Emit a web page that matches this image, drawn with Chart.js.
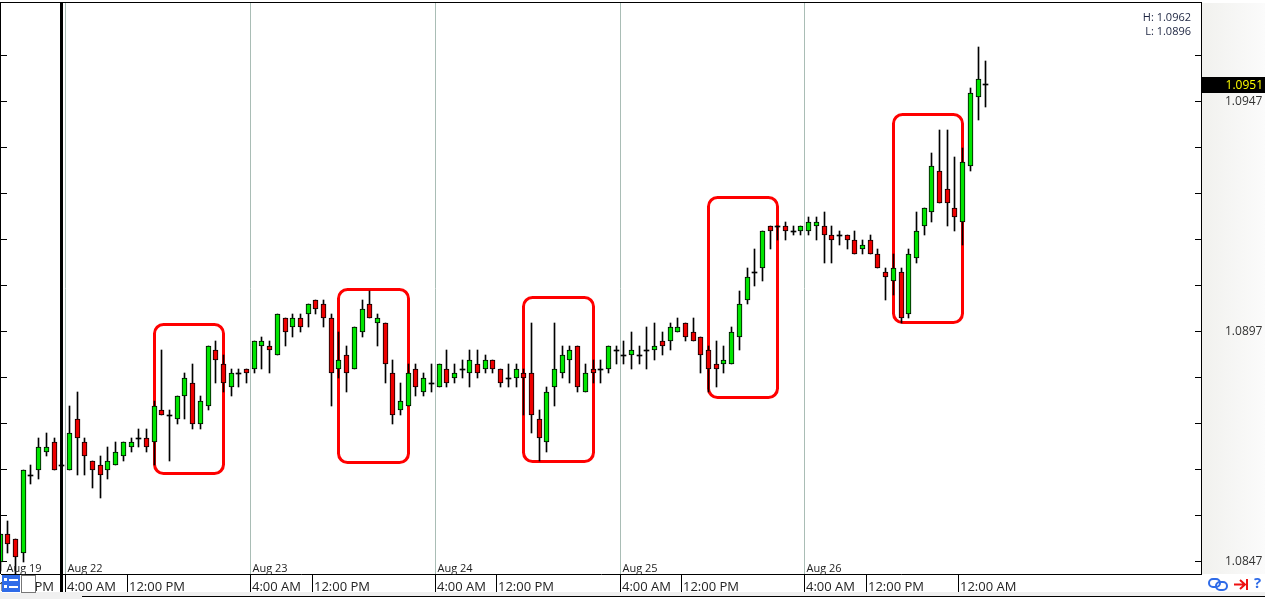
<!DOCTYPE html>
<html>
<head>
<meta charset="utf-8">
<title>EUR/USD hourly</title>
<script src="https://cdn.jsdelivr.net/npm/chart.js@4/dist/chart.umd.js"></script>
<style>
  html, body { margin: 0; padding: 0; background: #fff; }
  canvas { display: block; }
</style>
</head>
<body>
<canvas id="chart" width="1265" height="599"></canvas>
<script>
// hourly candles
const opens = [
  1.0847,1.0853,1.0852,1.0849,1.0866,1.0867,1.0871,1.0873,1.0868,1.0867,1.0878,1.0873,
  1.0869,1.0868,1.0867,1.0868,1.0870,1.0872,1.0874,1.0874,1.0873,1.0880,1.0879,1.0878,
  1.0883,1.0886,1.0877,1.0881,1.0893,1.0890,1.0885,1.0888,1.0889,1.0889,1.0894,1.0894,
  1.0892,1.0900,1.0898,1.0900,1.0901,1.0904,1.0903,1.0900,1.0889,1.0892,1.0889,1.0897,
  1.0903,1.0899,1.0899,1.0888,1.0880,1.0881,1.0889,1.0884,1.0886,1.0885,1.0889,1.0887,
  1.0889,1.0888,1.0890,1.0889,1.0891,1.0889,1.0887,1.0887,1.0888,1.0888,1.0878,1.0873,
  1.0885,1.0888,1.0891,1.0894,1.0884,1.0889,1.0889,1.0889,1.0893,1.0892,1.0892,1.0892,
  1.0893,1.0893,1.0895,1.0895,1.0897,1.0899,1.0897,1.0896,1.0893,1.0890,1.0890,1.0890,
  1.0896,1.0904,1.0910,1.0911,1.0920,1.0920,1.0920,1.0919,1.0919,1.0919,1.0920,1.0920,
  1.0918,1.0918,1.0918,1.0917,1.0915,1.0917,1.0914,1.0910,1.0908,1.0910,1.0901,1.0913,
  1.0920,1.0923,1.0932,1.0928,1.0924,1.0921,1.0933,1.0948,1.0951
];
const highs = [
  1.0853,1.0856,1.0852,1.0867,1.0868,1.0874,1.0875,1.0874,1.0868,1.0881,1.0884,1.0874,
  1.0869,1.0870,1.0872,1.0873,1.0873,1.0874,1.0876,1.0876,1.0882,1.0893,1.0880,1.0883,
  1.0888,1.0890,1.0883,1.0894,1.0895,1.0892,1.0889,1.0889,1.0889,1.0895,1.0896,1.0895,
  1.0901,1.0900,1.0901,1.0901,1.0903,1.0904,1.0904,1.0901,1.0897,1.0894,1.0898,1.0904,
  1.0906,1.0901,1.0899,1.0891,1.0886,1.0890,1.0890,1.0888,1.0890,1.0890,1.0893,1.0890,
  1.0891,1.0893,1.0893,1.0892,1.0891,1.0889,1.0890,1.0890,1.0889,1.0899,1.0880,1.0885,
  1.0899,1.0894,1.0894,1.0894,1.0890,1.0891,1.0891,1.0894,1.0894,1.0895,1.0897,1.0894,
  1.0898,1.0899,1.0897,1.0899,1.0900,1.0899,1.0900,1.0896,1.0894,1.0895,1.0894,1.0898,
  1.0906,1.0911,1.0915,1.0919,1.0920,1.0920,1.0921,1.0920,1.0920,1.0922,1.0922,1.0923,
  1.0920,1.0919,1.0918,1.0919,1.0917,1.0918,1.0915,1.0911,1.0914,1.0911,1.0915,1.0923,
  1.0924,1.0936,1.0941,1.0941,1.0935,1.0937,1.0950,1.0959,1.0956
];
const lows = [
  1.0845,1.0849,1.0844,1.0847,1.0864,1.0865,1.0870,1.0867,1.0868,1.0867,1.0866,1.0866,
  1.0863,1.0861,1.0865,1.0868,1.0869,1.0871,1.0872,1.0871,1.0868,1.0879,1.0869,1.0877,
  1.0878,1.0876,1.0876,1.0880,1.0886,1.0884,1.0883,1.0885,1.0886,1.0888,1.0889,1.0888,
  1.0892,1.0894,1.0896,1.0897,1.0898,1.0901,1.0898,1.0881,1.0887,1.0884,1.0889,1.0896,
  1.0900,1.0894,1.0886,1.0877,1.0879,1.0881,1.0883,1.0883,1.0884,1.0885,1.0885,1.0886,
  1.0887,1.0885,1.0887,1.0888,1.0888,1.0885,1.0885,1.0885,1.0879,1.0875,1.0869,1.0871,
  1.0881,1.0887,1.0886,1.0884,1.0884,1.0886,1.0886,1.0888,1.0890,1.0890,1.0889,1.0890,
  1.0889,1.0891,1.0892,1.0893,1.0897,1.0895,1.0895,1.0888,1.0884,1.0885,1.0888,1.0890,
  1.0893,1.0903,1.0907,1.0908,1.0915,1.0917,1.0917,1.0918,1.0918,1.0918,1.0917,1.0912,
  1.0912,1.0916,1.0915,1.0914,1.0914,1.0914,1.0911,1.0904,1.0905,1.0899,1.0900,1.0912,
  1.0918,1.0921,1.0925,1.0920,1.0919,1.0916,1.0932,1.0943,1.0946
];
const closes = [
  1.0853,1.0851,1.0848,1.0867,1.0866,1.0872,1.0872,1.0867,1.0868,1.0875,1.0874,1.0870,
  1.0867,1.0866,1.0869,1.0871,1.0873,1.0873,1.0874,1.0872,1.0881,1.0879,1.0879,1.0883,
  1.0887,1.0877,1.0882,1.0894,1.0891,1.0886,1.0888,1.0888,1.0888,1.0895,1.0895,1.0893,
  1.0901,1.0897,1.0900,1.0898,1.0903,1.0902,1.0900,1.0888,1.0891,1.0888,1.0898,1.0902,
  1.0900,1.0900,1.0890,1.0879,1.0882,1.0888,1.0885,1.0887,1.0886,1.0890,1.0886,1.0888,
  1.0889,1.0891,1.0888,1.0891,1.0889,1.0886,1.0887,1.0889,1.0887,1.0879,1.0874,1.0884,
  1.0889,1.0892,1.0893,1.0885,1.0888,1.0888,1.0889,1.0894,1.0893,1.0892,1.0893,1.0892,
  1.0893,1.0894,1.0894,1.0898,1.0898,1.0896,1.0895,1.0892,1.0889,1.0889,1.0891,1.0897,
  1.0903,1.0909,1.0910,1.0919,1.0919,1.0920,1.0919,1.0919,1.0920,1.0921,1.0921,1.0918,
  1.0917,1.0918,1.0917,1.0914,1.0916,1.0914,1.0911,1.0909,1.0911,1.0900,1.0914,1.0919,
  1.0924,1.0933,1.0925,1.0925,1.0922,1.0934,1.0949,1.0952,1.0951
];

// axis ticks
const priceTicks = [1.0957,1.0947,1.0937,1.0927,1.0917,1.0907,1.0897,1.0887,1.0877,1.0867,1.0857,1.0847];
const priceLabelled = [1.0947,1.0897,1.0847];
const timeTicks = [-0.5,8.5,16.5,32.5,40.5,56.5,64.5,80.5,88.5,104.5,112.5,124.5];
const timeLabels = ['12:00 PM','4:00 AM','12:00 PM','4:00 AM','12:00 PM','4:00 AM','12:00 PM','4:00 AM','12:00 PM','4:00 AM','12:00 PM','12:00 AM'];
const dayTicks = [0.5,8.5,32.5,56.5,80.5,104.5];
const dayLabels = ['Aug 19','Aug 22','Aug 23','Aug 24','Aug 25','Aug 26'];
const daySeparators = [8.5,32.5,56.5,80.5,104.5];
const weekBreak = 8;

// red boxes drawn by hand on the original: first candle, last candle, top and bottom price
const boxFrom = [20,44,68,92,116];
const boxTo = [29,53,77,101,125];
const boxTop = [1.08987,1.09063,1.09046,1.09263,1.09444];
const boxBottom = [1.08661,1.08685,1.08687,1.08827,1.0899];

const sessionHigh = 'H: 1.0962';
const sessionLow = 'L: 1.0896';
const bidValue = 1.09507;
const bidLabel = '1.0951';
const dojiHeight = 1 / 46000;

const UI_FONT = '"Open Sans", "Noto Sans", sans-serif';
const GREEN = '#00e600';
const RED = '#ee0000';
const PLOT = { left: 1, top: 3, right: 1201, bottom: 574 };

// keeps candles on whole pixels, the original is not antialiased.
// candles sit one row below the tick of the same price in the original
class SnapScale extends Chart.LinearScale {
  getPixelForValue(value) {
    const p = super.getPixelForValue(value);
    return this.isHorizontal() ? Math.floor(p) + 0.5 : Math.round(p) + 1;
  }
  getPixelForTick(index) {
    const p = super.getPixelForTick(index);
    return this.isHorizontal() ? p : p - 1;
  }
  _computeLabelItems(area) {
    const items = super._computeLabelItems(area);
    const shift = this.isHorizontal() ? 0 : 1;
    items.forEach(it => { it.options.translation[shift] += this.isHorizontal() ? 1.5 : 1; });
    return items;
  }
}
SnapScale.id = 'snap';
SnapScale.defaults = Chart.LinearScale.defaults;
Chart.register(SnapScale);

const wickData = highs.map((h, i) => ({ x: i, y: [lows[i], h] }));
const bodyData = [];
const dojiData = [];
opens.forEach((o, i) => {
  if (o === closes[i]) dojiData.push({ x: i, y: [o - dojiHeight, o] });
  else bodyData.push({ x: i, y: [o, closes[i]] });
});

const chartDecor = {
  id: 'chartDecor',
  // the layout leaves too much room, pin the plot to where the original has it
  afterLayout(chart) {
    const { scales: { x, y } } = chart;
    Object.assign(chart.chartArea, PLOT, { width: PLOT.right - PLOT.left, height: PLOT.bottom - PLOT.top });
    x.left = PLOT.left; x.right = PLOT.right; x.width = PLOT.right - PLOT.left;
    x.top = PLOT.bottom; x.bottom = chart.height; x.height = chart.height - PLOT.bottom;
    y.left = PLOT.right; y.right = chart.width; y.width = chart.width - PLOT.right;
    y.top = PLOT.top; y.bottom = PLOT.bottom; y.height = PLOT.bottom - PLOT.top;
    x.configure();
    y.configure();
  },
  beforeDraw(chart) {
    const { ctx, width, height } = chart;
    ctx.save();
    const grad = ctx.createLinearGradient(1202, 0, 1265, 0);
    grad.addColorStop(0, '#f1f1ee');
    grad.addColorStop(1, '#fbfbfb');
    ctx.fillStyle = grad;
    ctx.fillRect(1202, 3, width - 1202, 571);
    ctx.fillStyle = '#f0f0f0';
    ctx.fillRect(0, 592, width, height - 592);
    ctx.fillStyle = '#fff';
    ctx.fillRect(82, 596, width - 82, height - 596);
    ctx.fillStyle = '#000';
    ctx.fillRect(82, 596, width - 82, 1);
    ctx.restore();
  },
  beforeDatasetsDraw(chart) {
    const { ctx, scales: { x, y } } = chart;
    ctx.save();
    // day separators
    ctx.strokeStyle = '#a9bdb5';
    ctx.lineWidth = 1;
    daySeparators.forEach(v => {
      ctx.beginPath();
      ctx.moveTo(x.getPixelForValue(v), 3);
      ctx.lineTo(x.getPixelForValue(v), 574);
      ctx.stroke();
    });
    // week break
    ctx.fillStyle = '#000';
    ctx.fillRect(Math.floor(x.getPixelForValue(weekBreak)) - 1, 3, 3, 589);
    // ticks on the left edge
    priceTicks.forEach((v, i) => ctx.fillRect(1, y.getPixelForTick(i), 6, 1));
    // red boxes, candles go over them
    ctx.strokeStyle = '#ff0000';
    ctx.lineWidth = 3;
    boxFrom.forEach((from, i) => {
      const left = x.getPixelForValue(from);
      const right = x.getPixelForValue(boxTo[i]);
      const top = y.getPixelForValue(boxTop[i]) + 0.5;
      const bottom = y.getPixelForValue(boxBottom[i]) - 0.5;
      ctx.beginPath();
      ctx.roundRect(left, top, right - left, bottom - top, 9);
      ctx.stroke();
    });
    ctx.restore();
  },
  afterDatasetsDraw(chart) {
    const { ctx, scales: { x, y } } = chart;
    ctx.save();
    ctx.fillStyle = '#000';
    ctx.fillRect(0, 2, 1, 572);
    ctx.fillRect(0, 2, 1202, 1);
    ctx.font = '11px ' + UI_FONT;
    ctx.textAlign = 'left';
    ctx.textBaseline = 'middle';
    ctx.fillStyle = '#222';
    dayLabels.forEach((t, i) => ctx.fillText(t, x.getPixelForValue(dayTicks[i]) + 2, 569));
    ctx.font = '11px ' + UI_FONT;
    ctx.textAlign = 'right';
    ctx.fillStyle = '#1c2440';
    ctx.fillText(sessionHigh, 1191, 17.5);
    ctx.fillText(sessionLow, 1191, 32);
    // current bid tag
    const by = y.getPixelForValue(bidValue);
    ctx.fillStyle = '#000';
    ctx.fillRect(1202, by - 8, 63, 16);
    ctx.fillStyle = '#ffff00';
    ctx.font = '12px ' + UI_FONT;
    ctx.fillText(bidLabel, 1263, by + 1);
    ctx.restore();
  },
  afterDraw(chart) {
    const { ctx } = chart;
    ctx.save();
    // list button and empty button in the bottom left corner
    ctx.fillStyle = '#fff';
    ctx.fillRect(2, 575, 34, 18);
    ctx.fillStyle = '#2f6be8';
    ctx.fillRect(2, 575, 18, 17);
    ctx.fillStyle = '#fff';
    ctx.fillRect(4, 578, 3, 3);
    ctx.fillRect(4, 585, 3, 3);
    ctx.fillRect(9, 579, 9, 2);
    ctx.fillRect(9, 586, 9, 2);
    ctx.strokeStyle = '#777';
    ctx.lineWidth = 1;
    ctx.strokeRect(21.5, 575.5, 14, 17);
    // link icon
    ctx.strokeStyle = '#2f6be8';
    ctx.lineWidth = 2;
    ctx.beginPath();
    ctx.roundRect(1209, 579, 11, 8, 4);
    ctx.stroke();
    ctx.beginPath();
    ctx.roundRect(1216, 582, 11, 8, 4);
    ctx.stroke();
    // jump to end arrow
    ctx.strokeStyle = '#ee1111';
    ctx.beginPath();
    ctx.moveTo(1234, 584.5);
    ctx.lineTo(1244, 584.5);
    ctx.moveTo(1240, 580);
    ctx.lineTo(1245, 584.5);
    ctx.lineTo(1240, 589);
    ctx.moveTo(1247, 579);
    ctx.lineTo(1247, 590);
    ctx.stroke();
    ctx.fillStyle = '#2f6be8';
    ctx.font = 'bold 15px ' + UI_FONT;
    ctx.textAlign = 'left';
    ctx.textBaseline = 'middle';
    ctx.fillText('?', 1254, 584);
    ctx.restore();
  }
};

new Chart(document.getElementById('chart'), {
  type: 'bar',
  data: {
    datasets: [
      { label: 'Wick', data: wickData, backgroundColor: '#000', maxBarThickness: 1, order: 3 },
      {
        label: 'Body',
        data: bodyData,
        backgroundColor: c => closes[c.raw.x] > opens[c.raw.x] ? GREEN : RED,
        borderColor: '#000',
        borderWidth: 1,
        borderSkipped: false,
        maxBarThickness: 5,
        order: 1
      },
      { label: 'Doji', data: dojiData, backgroundColor: '#000', maxBarThickness: 5, order: 2 }
    ]
  },
  options: {
    responsive: false,
    animation: false,
    grouped: false,
    barPercentage: 1,
    categoryPercentage: 1,
    events: [],
    plugins: { legend: { display: false }, tooltip: { enabled: false }, title: { display: false } },
    scales: {
      x: {
        type: 'snap',
        min: 0.11,
        max: 155.95,
        bounds: 'data',
        offset: false,
        afterBuildTicks: s => { s.ticks = timeTicks.map(v => ({ value: v })); },
        grid: { offset: false, drawOnChartArea: false, tickLength: 18, tickColor: '#000' },
        border: { display: true, color: '#000', width: 1 },
        ticks: {
          callback: (v, i) => timeLabels[i],
          autoSkip: false,
          maxRotation: 0,
          align: 'start',
          padding: -13,
          color: '#222',
          font: { family: UI_FONT, size: 13 }
        }
      },
      y: {
        type: 'snap',
        position: 'right',
        min: 1.084417,
        max: 1.09683,
        bounds: 'data',
        afterBuildTicks: s => { s.ticks = priceTicks.map(v => ({ value: v })); },
        grid: { drawOnChartArea: false, tickLength: -6, tickColor: '#000' },
        border: { display: true, color: '#000', width: 1 },
        ticks: {
          callback: v => priceLabelled.includes(v) ? v.toFixed(4) : '',
          autoSkip: false,
          padding: 30,
          color: '#333',
          font: { family: UI_FONT, size: 12 }
        }
      }
    }
  },
  plugins: [chartDecor]
});
</script>
</body>
</html>
